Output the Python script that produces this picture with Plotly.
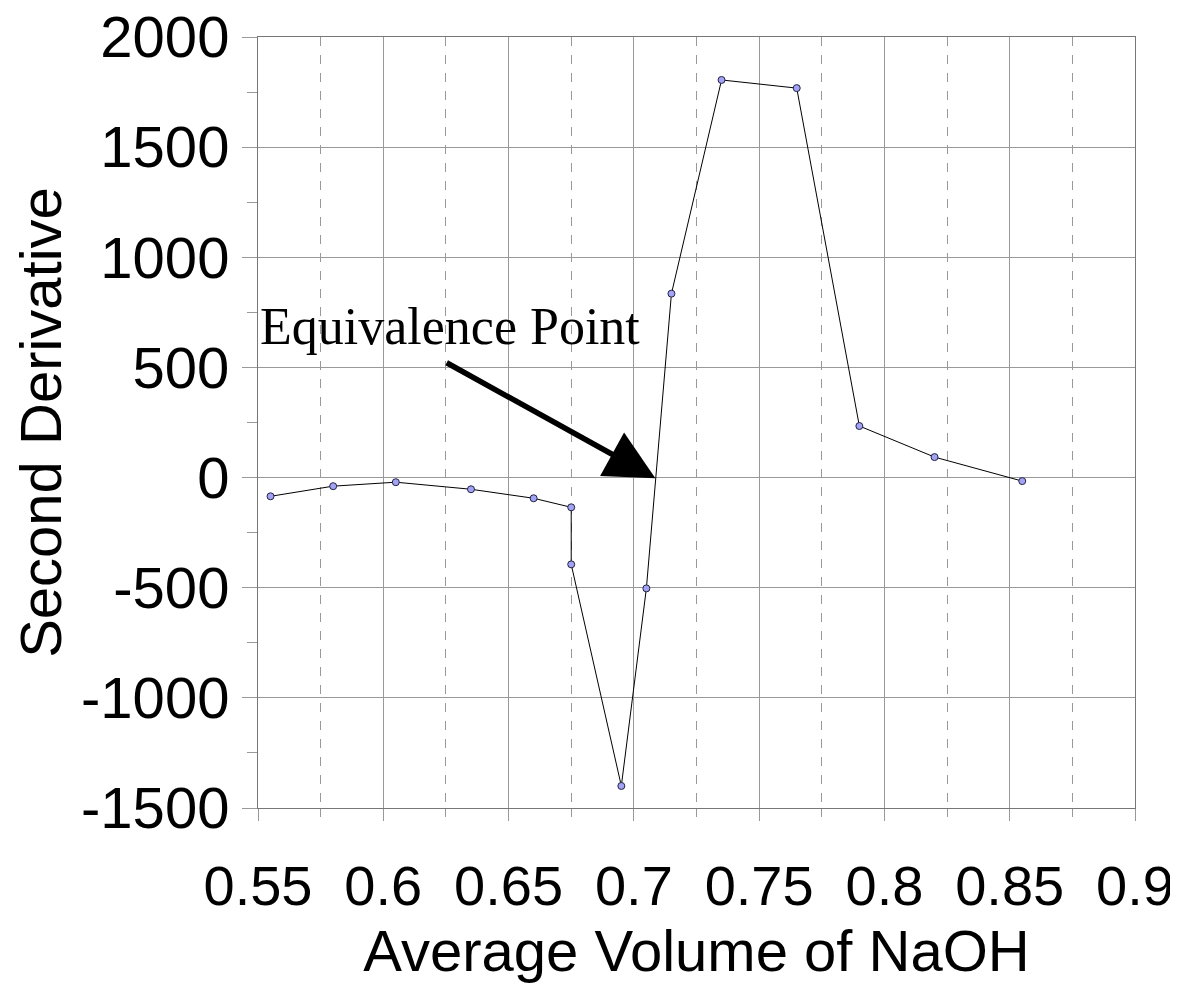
import plotly.graph_objects as go

volume = [0.555, 0.58, 0.605, 0.635, 0.66, 0.675, 0.675, 0.695, 0.705, 0.715, 0.735, 0.765, 0.79, 0.82, 0.855]
second_derivative = [-85, -39, -21, -53, -94, -135, -394, -1400, -503, 835, 1805, 1768, 234, 93, -16]

x_ticks = [0.55, 0.6, 0.65, 0.7, 0.75, 0.8, 0.85, 0.9]
x_tick_labels = ["0.55", "0.6", "0.65", "0.7", "0.75", "0.8", "0.85", "0.9"]
y_ticks = [-1500, -1000, -500, 0, 500, 1000, 1500, 2000]
y_tick_labels = ["-1500", "-1000", "-500", "0", "500", "1000", "1500", "2000"]

fig = go.Figure()
fig.add_trace(go.Scatter(
    x=volume, y=second_derivative, mode="lines+markers",
    line=dict(color="black", width=1),
    marker=dict(size=7, color="#a3a3f5", line=dict(color="#222244", width=1)),
    showlegend=False,
))

fig.add_annotation(
    x=0.7086, y=-3, xref="x", yref="y",
    ax=0.6247, ay=525, axref="x", ayref="y",
    showarrow=True, arrowhead=2, arrowwidth=5.5, arrowsize=1.8, arrowcolor="black",
    text="",
)
fig.add_annotation(
    x=0, y=687, xref="paper", yref="y", xanchor="left", yanchor="middle",
    text="Equivalence Point", showarrow=False,
    font=dict(family="Liberation Serif", size=52, color="black"),
)

fig.update_layout(
    width=1178, height=984,
    margin=dict(l=250, r=51, t=29, b=184),
    plot_bgcolor="white", paper_bgcolor="white",
    font=dict(family="Liberation Sans", color="black"),
)
fig.update_xaxes(
    range=[0.55, 0.9], tickvals=x_ticks, ticktext=x_tick_labels, automargin=False,
    ticklabeloverflow="allow",
    tickfont=dict(size=56), ticks="outside", ticklen=12, tickcolor="#999",
    ticklabelstandoff=17,
    showgrid=True, gridcolor="#999", gridwidth=1,
    minor=dict(tickvals=[0.575, 0.625, 0.675, 0.725, 0.775, 0.825, 0.875], showgrid=True,
               griddash="dash", gridcolor="#999", ticks="outside", ticklen=8, tickcolor="#999"),
    showline=True, linecolor="#777", linewidth=1, mirror=True,
    zeroline=False,
    title=dict(text="Average Volume of NaOH", font=dict(size=58), standoff=14),
)
fig.update_yaxes(
    range=[-1500, 2000], tickvals=y_ticks, ticktext=y_tick_labels, automargin=False,
    ticklabeloverflow="allow",
    tickfont=dict(size=58), ticks="outside", ticklen=15, tickcolor="#999",
    ticklabelstandoff=1,
    showgrid=True, gridcolor="#999", gridwidth=1,
    minor=dict(tickvals=[-1250, -750, -250, 250, 750, 1250, 1750], showgrid=False,
               ticks="outside", ticklen=10, tickcolor="#999"),
    showline=True, linecolor="#777", linewidth=1, mirror=True,
    zeroline=False,
    title=dict(text="Second Derivative", font=dict(size=58), standoff=14),
)
fig.write_html("out.html")
